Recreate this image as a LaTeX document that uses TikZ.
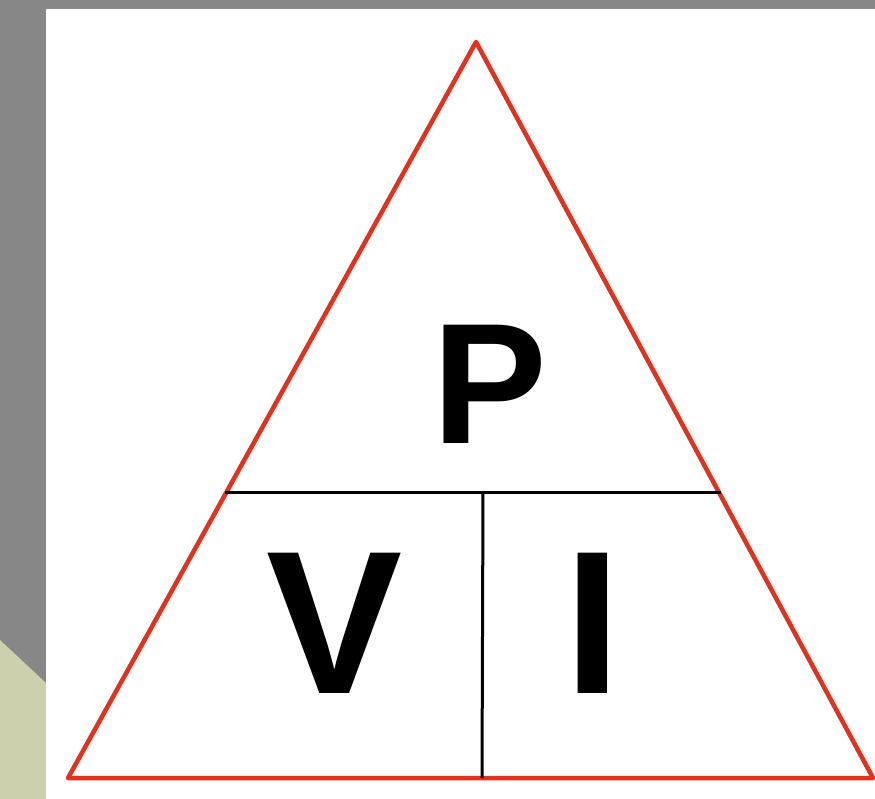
\documentclass[tikz,border=0pt]{standalone}
\usepackage{fontspec}
\setmainfont{Liberation Sans}
\usepackage{tikz}
\usetikzlibrary{positioning}

\definecolor{bggray}{HTML}{878787}
\definecolor{bgbeige}{HTML}{CDD0AD}
\definecolor{trired}{HTML}{E2321E}

\begin{document}
\begin{tikzpicture}[
    x=1pt, y=-1pt,
    edge/.style={draw=trired, line width=4.5pt, line join=round},
    divider/.style={draw=black, line width=3pt},
    letter/.style={inner sep=0pt, anchor=base, font=\bfseries\fontsize{#1}{#1}\selectfont},
    letter/.default=204
]
    % Background
    \fill[bggray] (0,0) rectangle (875,799);
    \fill[bgbeige] (0,640) -- (46,683) -- (46,799) -- (0,799) -- cycle;
    \fill[white] (46,9) rectangle (875,799);
    \useasboundingbox (0,0) rectangle (875,799);

    % Triangle corners
    \coordinate (apex) at (476,42);
    \coordinate (left) at (68,778);
    \coordinate (right) at (873,778);
    \draw[edge] (apex) -- (left) -- (right) -- cycle;

    % Dividers
    \coordinate (midL) at (225,492);
    \coordinate (midR) at (721,492);
    \coordinate (midC) at (483,492);
    \coordinate (baseC) at (482,778);
    \draw[divider] (midL) -- (midR);
    \draw[divider] (midC) -- (baseC);

    % Letters
    \node[letter=172] (power) at (490,443) {P};
    \node[letter] (voltage) at (335,693) {V};
    \node[letter] (current) at (593,693) {I};
\end{tikzpicture}
\end{document}
